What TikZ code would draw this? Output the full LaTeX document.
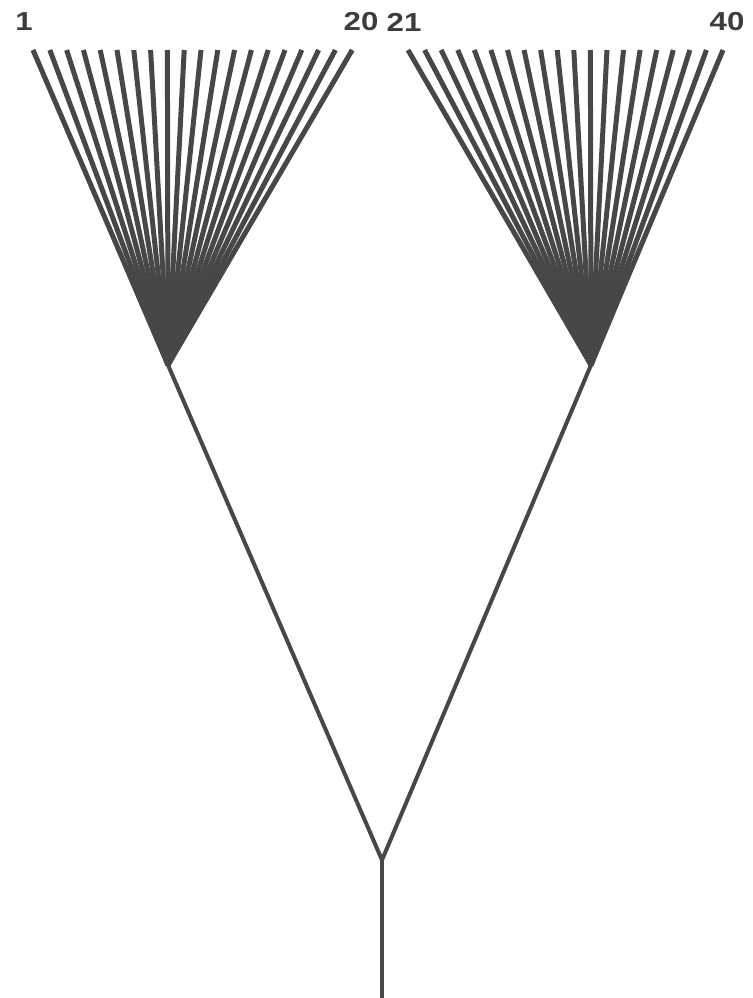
\documentclass[tikz,border=0pt]{standalone}
\usepackage{fontspec}
\newfontfamily\labelfont[FakeStretch=1.2]{Liberation Sans}
\definecolor{branchgrey}{HTML}{474747}

\begin{document}
\begin{tikzpicture}[x=1pt, y=-1pt,
    leaf/.style={draw=branchgrey, line width=5pt},
    branch/.style={draw=branchgrey, line width=4pt},
    leaflabel/.style={font=\labelfont\bfseries\fontsize{26}{26}\selectfont, text=branchgrey!85!black, inner sep=0pt}]
    \useasboundingbox (0,0) rectangle (752,998);
    \coordinate (apexL) at (168,365);
    \coordinate (apexR) at (591,365);
    \coordinate (root) at (382,860);
    \coordinate (base) at (382,998);
    \foreach \i in {1,...,20} {
        \coordinate (leaf\i) at ({33+(\i-1)*16.8},50);
        \draw[leaf] (leaf\i) -- (apexL);
    }
    \foreach \i in {21,...,40} {
        \coordinate (leaf\i) at ({408+(\i-21)*16.58},50);
        \draw[leaf] (leaf\i) -- (apexR);
    }
    \draw[branch] (apexL) -- (root);
    \draw[branch] (apexR) -- (root);
    \draw[branch] (root) -- (base);
    \node[leaflabel] (lab1) at (24,22) {1};
    \node[leaflabel] (lab20) at (361,22) {20};
    \node[leaflabel] (lab21) at (404,22) {21};
    \node[leaflabel] (lab40) at (727,22) {40};
\end{tikzpicture}
\end{document}
